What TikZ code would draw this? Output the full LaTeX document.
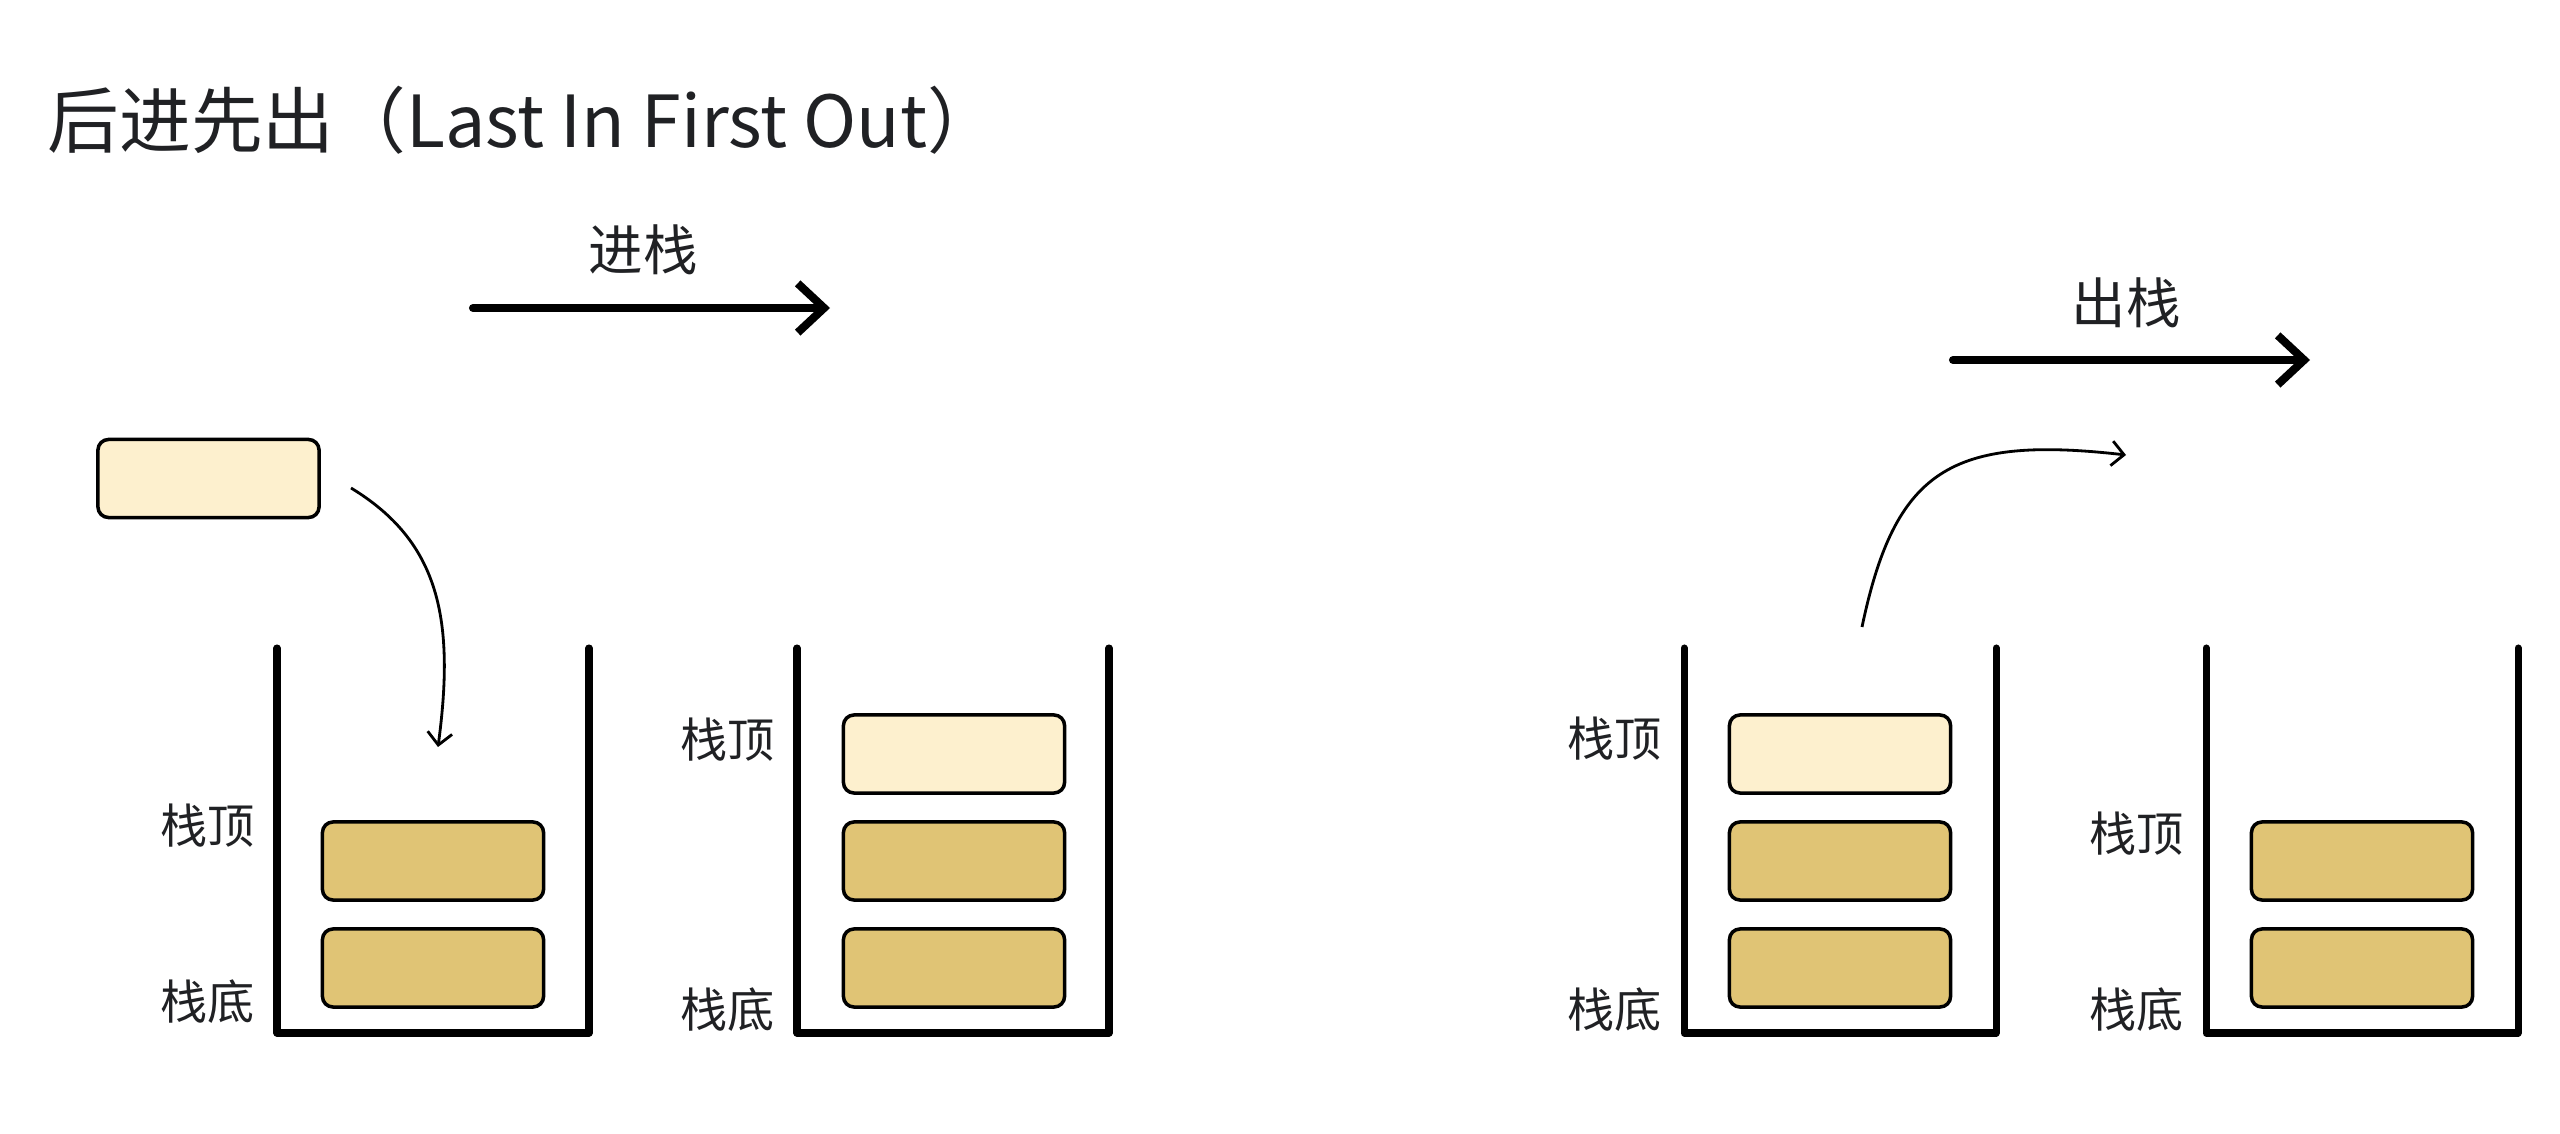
\documentclass[tikz,border=0pt]{standalone}
\usepackage{fontspec}
\setmainfont{Noto Sans CJK SC}
\usepackage{tikz}
\usetikzlibrary{arrows.meta}
\definecolor{inkgray}{RGB}{32,33,36}
\definecolor{newcream}{RGB}{253,240,206}
\definecolor{oldgold}{RGB}{224,196,117}

\begin{document}
\begin{tikzpicture}[x=0.01cm, y=-0.01cm,
    blk/.style={draw=black, line width=1pt, rounded corners=3pt,
        minimum width=2.21cm, minimum height=0.78cm, inner sep=0pt},
    newblk/.style={blk, fill=newcream},
    oldblk/.style={blk, fill=oldgold},
    wall/.style={line width=2pt, line cap=round, line join=round},
    tag/.style={text=inkgray, font=\fontsize{13.4}{16}\selectfont, anchor=east, inner sep=0pt},
    optag/.style={text=inkgray, font=\fontsize{15.5}{18}\selectfont, inner sep=0pt},
    bigarrow/.style={line width=2.3pt, line cap=round, -{Straight Barb[length=7.5pt, width=14pt]}},
    thinarrow/.style={line width=0.8pt, -{Straight Barb[length=3.5pt, width=7pt]}}]
    % Canvas
    \fill[white] (0,0) rectangle (2560,1134);
    \path[use as bounding box] (0,0) rectangle (2560,1134);

    % Title
    \node[anchor=west, inner sep=0pt, text=inkgray, font=\fontsize{20.4}{24}\selectfont] (title)
        at (47,120) {后进先出（Last In First Out）};

    % Push and pop captions
    \coordinate (pushl) at (473,308);
    \coordinate (pushr) at (830,308);
    \draw[bigarrow] (pushl) -- (pushr);
    \node[optag] (pushlbl) at (643,250) {进栈};

    \coordinate (popl) at (1953,360);
    \coordinate (popr) at (2310,360);
    \draw[bigarrow] (popl) -- (popr);
    \node[optag] (poplbl) at (2126,303) {出栈};

    % The four stacks: wall x / top label y / bottom label y
    \foreach \sx/\ty/\by [count=\i] in {277/826/1002, 797/740/1010, 1684/739/1010, 2206/834/1010} {
        \draw[wall] (\sx,648) -- (\sx,1033) -- (\sx+312,1033) -- (\sx+312,648);
        \node[tag] (top\i) at (\sx-22,\ty) {栈顶};
        \node[tag] (bot\i) at (\sx-22,\by) {栈底};
    }

    % Blocks already in each stack
    \foreach \cx [count=\i] in {433,954,1840,2362} {
        \node[oldblk] (low\i) at (\cx,968) {};
        \node[oldblk] (mid\i) at (\cx,861) {};
    }

    % The pushed block
    \node[newblk] (incoming) at (208.5,478.5) {};
    \node[newblk] (in2) at (954,754) {};
    \node[newblk] (in3) at (1840,754) {};

    % Curved moves
    \coordinate (pushs) at (351,488);
    \coordinate (pushe) at (438,747);
    \draw[thinarrow] (pushs) .. controls (440,542) and (455,620) .. (pushe);

    \coordinate (pops) at (1862,627);
    \coordinate (pope) at (2126,455);
    \draw[thinarrow] (pops) .. controls (1895,470) and (1950,435) .. (pope);
\end{tikzpicture}
\end{document}
